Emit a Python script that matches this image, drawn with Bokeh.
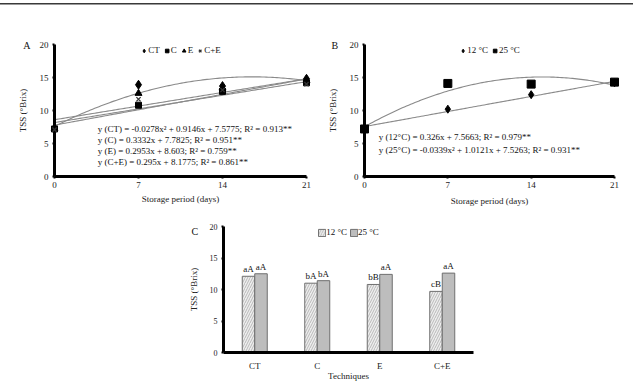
import numpy as np
from bokeh.plotting import figure
from bokeh.models import (Range1d, Label, Legend, LegendItem, ColumnDataSource,
                          FactorRange, Div, Spacer, FixedTicker)
from bokeh.layouts import column, row
from bokeh.transform import dodge
from bokeh.embed import file_html
from bokeh.resources import INLINE
from bokeh.core.properties import value

FONT = "Liberation Serif"

# ---------------- data ----------------
days = [0, 7, 14, 21]
# Panel A (techniques over storage)
tss_ct = [7.2, 13.9, 13.7, 14.8]
tss_c = [7.2, 10.8, 12.9, 14.2]
tss_e = [7.3, 12.6, 13.4, 14.5]
tss_ce = [7.1, 11.7, 13.1, 14.0]
# regression coefficients [x^2, x, const]
coef_ct = [-0.0278, 0.9146, 7.5775]
coef_c = [0.0, 0.3332, 7.7825]
coef_e = [0.0, 0.2953, 8.603]
coef_ce = [0.0, 0.295, 8.1775]
eq_a = ["y (CT) = -0.0278x\u00b2 + 0.9146x + 7.5775; R\u00b2 = 0.913**",
        "y (C) = 0.3332x + 7.7825; R\u00b2 = 0.951**",
        "y (E) = 0.2953x + 8.603; R\u00b2 = 0.759**",
        "y (C+E) = 0.295x + 8.1775; R\u00b2 = 0.861**"]

# Panel B (temperatures over storage)
tss_12 = [7.2, 10.2, 12.4, 14.2]
tss_25 = [7.2, 14.1, 14.0, 14.3]
coef_12 = [0.0, 0.326, 7.5663]
coef_25 = [-0.0339, 1.0121, 7.5263]
eq_b = ["y (12\u00b0C) = 0.326x + 7.5663; R\u00b2 = 0.979**",
        "y (25\u00b0C) = -0.0339x\u00b2 + 1.0121x + 7.5263; R\u00b2 = 0.931**"]

# Panel C (techniques x temperature)
techniques = ["CT", "C", "E", "C+E"]
bar_12 = [12.1, 11.0, 10.8, 9.7]
bar_25 = [12.5, 11.4, 12.4, 12.6]
letters_12 = ["aA", "bA", "bB", "cB"]
letters_25 = ["aA", "bA", "aA", "aA"]

y_ticks = [0, 5, 10, 15, 20]
panel_letters = ["A", "B", "C"]


def curve(coef, n=120):
    xs = np.linspace(days[0], days[-1], n)
    return xs, coef[0] * xs ** 2 + coef[1] * xs + coef[2]


def style(p, tick_size="9px", title_size="9px"):
    p.xgrid.visible = False
    p.ygrid.visible = False
    p.outline_line_color = None
    p.background_fill_color = "white"
    p.border_fill_color = "white"
    for ax in (p.xaxis, p.yaxis):
        ax.axis_line_width = 3
        ax.axis_line_color = "black"
        ax.major_tick_line_color = "black"
        ax.major_tick_line_width = 2
        ax.major_tick_out = 2
        ax.major_tick_in = 0
        ax.minor_tick_line_color = None
        ax.major_label_text_font = FONT
        ax.major_label_text_font_size = tick_size
        ax.major_label_text_color = "#222222"
        ax.axis_label_text_font = FONT
        ax.axis_label_text_font_size = title_size
        ax.axis_label_text_font_style = "normal"
        ax.axis_label_text_color = "#222222"
    p.yaxis.ticker = FixedTicker(ticks=y_ticks)
    p.yaxis.major_label_standoff = 4
    p.yaxis.axis_label_standoff = 9


def legend(items, size="9px"):
    lg = Legend(items=items, location="top_center", orientation="horizontal")
    lg.background_fill_alpha = 0
    lg.border_line_color = None
    lg.padding = 0
    lg.margin = 1
    lg.spacing = 2
    lg.label_standoff = 0
    lg.glyph_width = 9
    lg.glyph_height = 9
    lg.label_height = 9
    lg.label_width = 0
    lg.label_text_font = FONT
    lg.label_text_font_size = size
    lg.label_text_color = "#111111"
    return lg


def panel_letter(p, x, y, txt):
    p.text(x=[x], y=[y], text=[txt], text_font=value(FONT), text_font_size="10px",
           text_align="center", text_baseline="middle", text_color="#111111",
           level="overlay")


# ---------------- Panel A ----------------
pA = figure(width=316, height=207, x_range=Range1d(0, 21), y_range=Range1d(0, 20),
            toolbar_location=None, output_backend="svg",
            min_border_left=54, min_border_right=10, min_border_top=38, min_border_bottom=37)
style(pA)
pA.xaxis.ticker = FixedTicker(ticks=days)
pA.xaxis.axis_label = "Storage period (days)"
pA.xaxis.major_label_standoff = 3
pA.xaxis.axis_label_standoff = 3
pA.yaxis.axis_label = "TSS (\u00b0Brix)"

for coef in (coef_ct, coef_c, coef_e, coef_ce):
    xs, ys = curve(coef)
    pA.line(xs, ys, line_color="#8a8a8a", line_width=1.1)

rA_ct = pA.scatter(days, tss_ct, marker="diamond", size=9, color="black", level="overlay")
rA_c = pA.scatter(days, tss_c, marker="square", size=6, color="black", level="overlay")
rA_e = pA.scatter(days, tss_e, marker="triangle", size=7, color="black", level="overlay")
rA_ce = pA.scatter(days, tss_ce, marker="x", size=6, line_color="#333333", line_width=1.3,
                   level="overlay")
pA.add_layout(legend([LegendItem(label="CT", renderers=[rA_ct]),
                      LegendItem(label="C", renderers=[rA_c]),
                      LegendItem(label="E", renderers=[rA_e]),
                      LegendItem(label="C+E", renderers=[rA_ce])]))

for i, t in enumerate(eq_a):
    pA.add_layout(Label(x=3.6, y=7.27 - i * 1.68, text=t, text_font=FONT,
                        text_font_size="9px", text_baseline="middle", text_color="#111111"))
panel_letter(pA, -2.3, 19.85, panel_letters[0])

# ---------------- Panel B ----------------
pB = figure(width=317, height=207, x_range=Range1d(0, 21), y_range=Range1d(0, 20),
            toolbar_location=None, output_backend="svg",
            min_border_left=48, min_border_right=19, min_border_top=38, min_border_bottom=34)
style(pB)
pB.xaxis.ticker = FixedTicker(ticks=days)
pB.xaxis.axis_label = "Storage period (days)"
pB.xaxis.major_label_standoff = 3
pB.xaxis.axis_label_standoff = 5
pB.yaxis.axis_label = "TSS (\u00b0Brix)"

for coef in (coef_12, coef_25):
    xs, ys = curve(coef)
    pB.line(xs, ys, line_color="#8a8a8a", line_width=1.1)

rB_12 = pB.scatter(days, tss_12, marker="diamond", size=8, color="black", level="overlay")
rB_25 = pB.scatter(days, tss_25, marker="square", size=8, color="black", level="overlay")
pB.add_layout(legend([LegendItem(label="12 \u00b0C", renderers=[rB_12]),
                      LegendItem(label="25 \u00b0C", renderers=[rB_25])]))
for i, t in enumerate(eq_b):
    pB.add_layout(Label(x=1.2, y=5.95 - i * 1.9, text=t, text_font=FONT,
                        text_font_size="9px", text_baseline="middle", text_color="#111111"))
panel_letter(pB, -2.5, 19.85, panel_letters[1])

# ---------------- Panel C ----------------
srcC = ColumnDataSource(dict(tech=techniques, v12=bar_12, v25=bar_25,
                             l12=letters_12, l25=letters_25))
pC = figure(width=323, height=171, x_range=FactorRange(factors=techniques, range_padding=0),
            y_range=Range1d(0, 20), toolbar_location=None, output_backend="svg",
            min_border_left=53, min_border_right=20, min_border_top=13, min_border_bottom=32)
style(pC, tick_size="8px", title_size="9px")
pC.xaxis.major_label_text_font_size = "9px"
pC.xaxis.major_tick_line_color = None
pC.xaxis.axis_label = "Techniques"
pC.xaxis.major_label_standoff = 6
pC.xaxis.axis_label_standoff = -3
pC.yaxis.axis_label = "TSS (\u00b0Brix)"
pC.yaxis.axis_label_standoff = 8

r12 = pC.vbar(x=dodge("tech", -0.1, range=pC.x_range), top="v12", width=0.2, source=srcC,
              fill_color="#eeeeee", line_color="#6f6f6f", line_width=1,
              hatch_pattern="right_diagonal_line", hatch_color="#a0a0a0",
              hatch_scale=5, hatch_weight=0.7)
r25 = pC.vbar(x=dodge("tech", 0.1, range=pC.x_range), top="v25", width=0.2, source=srcC,
              fill_color="#bdbdbd", line_color="#6f6f6f", line_width=1)
pC.text(x=dodge("tech", -0.1, range=pC.x_range), y="v12", text="l12", source=srcC,
        text_align="center", text_baseline="bottom", y_offset=-2,
        text_font=value(FONT), text_font_size="9px", text_color="#111111")
pC.text(x=dodge("tech", 0.1, range=pC.x_range), y="v25", text="l25", source=srcC,
        text_align="center", text_baseline="bottom", y_offset=-2,
        text_font=value(FONT), text_font_size="9px", text_color="#111111")
pC.add_layout(legend([LegendItem(label="12 \u00b0C", renderers=[r12]),
                      LegendItem(label="25 \u00b0C", renderers=[r25])], size="9px"))
panel_letter(pC, -0.46, 19.2, panel_letters[2])

# ---------------- layout ----------------
top = Div(text="", width=633, height=2, margin=(3, 0, 1, 0),
          styles={"background-color": "#3a3a3a", "border-bottom": "1px solid #9a9a9a"})
layout = column(top, row(pA, pB, spacing=0), row(Spacer(width=170, height=171), pC, spacing=0),
                spacing=0)

open("out.html", "w").write(file_html(layout, INLINE))
